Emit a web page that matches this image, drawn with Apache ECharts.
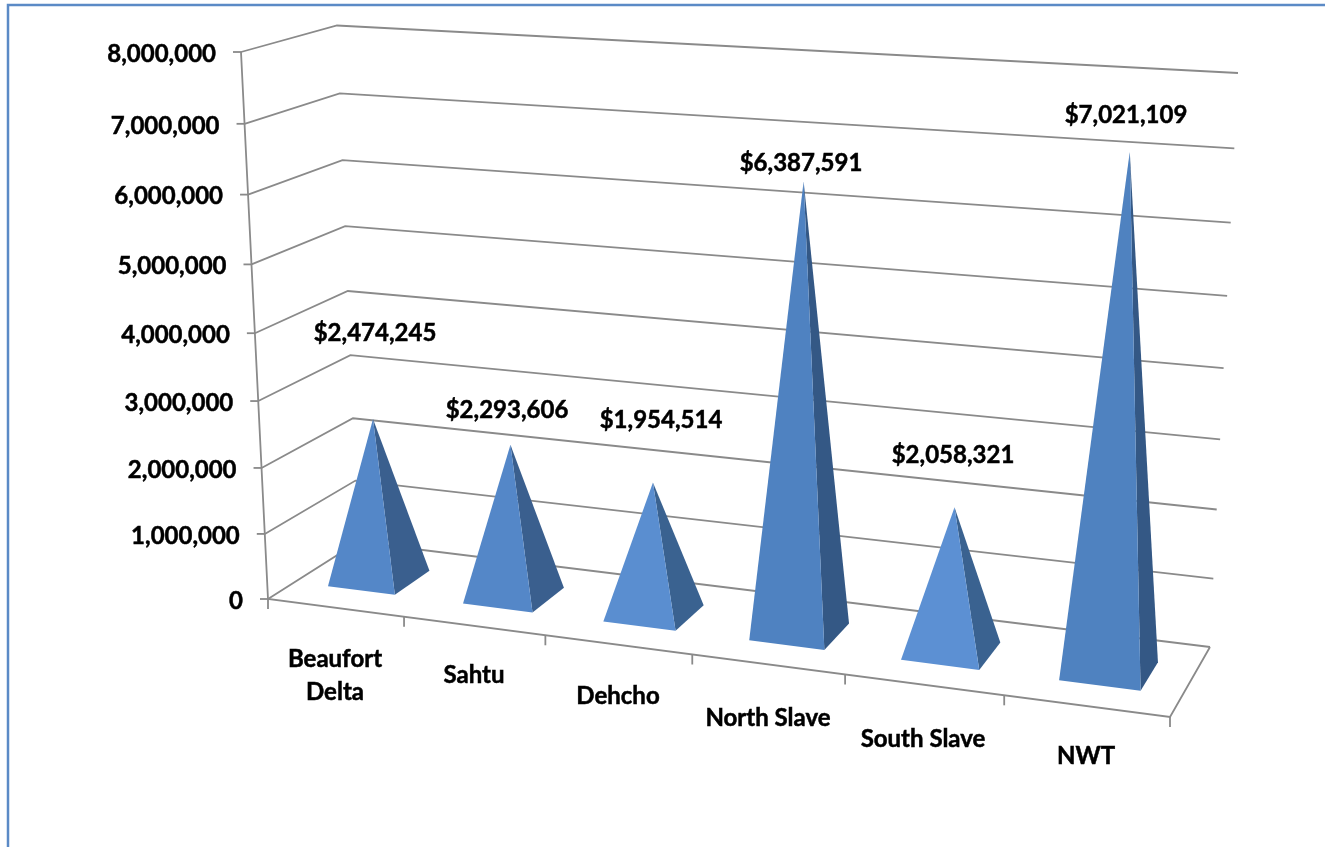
<!DOCTYPE html>
<html>
<head>
<meta charset="utf-8">
<style>html,body{margin:0;padding:0;background:#fff}#chart{width:1325px;height:847px}</style>
<script src="https://cdn.jsdelivr.net/npm/echarts@6/dist/echarts.min.js"></script>
</head>
<body>
<div id="chart"></div>
<script>
// Regional totals shown as pyramids standing on a perspective floor.
const categories = ['Beaufort\nDelta', 'Sahtu', 'Dehcho', 'North Slave', 'South Slave', 'NWT'];
const values = [2474245, 2293606, 1954514, 6387591, 2058321, 7021109];
const tickValues = [0, 1000000, 2000000, 3000000, 4000000, 5000000, 6000000, 7000000, 8000000];
const tickLabels = ['0', '1,000,000', '2,000,000', '3,000,000', '4,000,000', '5,000,000', '6,000,000', '7,000,000', '8,000,000'];

// Layout: where the text sits and how each pyramid is tinted.
const valueLabelAnchors = [[375, 333], [507, 410], [661, 420], [801, 163], [953, 455], [1126, 115]];
const categoryLabelAnchors = [[335, 676], [474, 675], [618, 696], [768, 718], [923, 739], [1086, 756]];
const frontColors = ['#5487c8', '#5487c8', '#5a8ed0', '#4f82c1', '#5c90d3', '#4f82c0'];
const sideColors = ['#3a5f8e', '#3a5f8e', '#3a6290', '#345885', '#3a6290', '#345885'];

// Corners of the plot box on screen: Front/Back, Left/Right, Bottom/Top.
const FLB = [268, 599], FRB = [1170, 717], BLB = [358, 542], BRB = [1210, 647];
const FLT = [241, 52], FRT = [1200, 85], BLT = [337, 25.5], BRT = [1238, 73];
const WARP_U = 0.126, WARP_V = 0.058;
const BASE_HALF = 0.25, BASE_NEAR = 0.3, BASE_FAR = 0.71;

const FONT = { fontFamily: 'Lato', fontWeight: 'bold', fontSize: 24, fill: '#000', stroke: '#000', lineWidth: 0.5 };
const GRID_STROKE = { stroke: '#8a8a8a', lineWidth: 1.8, fill: null };

const lerp = (a, b, t) => [a[0] + (b[0] - a[0]) * t, a[1] + (b[1] - a[1]) * t];
const warp = (t, k) => t / (1 + k * (1 - t));

// Maps box coordinates (across, depth, height; each 0..1) to screen pixels.
function project(u, d, v) {
  const U = warp(u, WARP_U), V = warp(v, WARP_V);
  const low = lerp(lerp(FLB, FRB, U), lerp(BLB, BRB, U), d);
  const high = lerp(lerp(FLT, FRT, U), lerp(BLT, BRT, U), d);
  return lerp(low, high, V);
}

const line = (points) => ({ type: 'polyline', shape: { points }, style: GRID_STROKE, silent: true });

// One gridline per tick: along the left wall, then along the back wall.
function renderTick(params, api) {
  const v = 1 - api.coord([0, api.value(0)])[1] / api.getHeight();
  const a = project(0, 0, v);
  return {
    type: 'group',
    children: [
      line([a, project(0, 1, v), project(1, 1, v)]),
      line([[a[0] - 8, a[1]], a]),
      { type: 'text', style: Object.assign({ text: tickLabels[params.dataIndex], x: a[0] - 25, y: a[1] + 2, align: 'right', verticalAlign: 'middle' }, FONT) }
    ]
  };
}

// Floor outline, front-left upright and the ticks between the categories.
function renderFrame(params, api) {
  const children = [
    line([project(0, 0, 1), project(0, 0, 0), project(1, 0, 0), project(1, 1, 0)])
  ];
  for (let i = 0; i <= categories.length; i++) {
    const p = project(i / categories.length, 0, 0);
    children.push(line([p, [p[0], p[1] + 10]]));
  }
  return { type: 'group', children };
}

function renderPyramid(params, api) {
  const i = api.value(0);
  const c = api.coord([i, api.value(1)]);
  const W = api.getWidth(), H = api.getHeight();
  const half = api.size([1, 0])[0] * BASE_HALF;
  const uL = (c[0] - half) / W, uR = (c[0] + half) / W, uC = c[0] / W;
  const fl = project(uL, BASE_NEAR, 0), fr = project(uR, BASE_NEAR, 0), br = project(uR, BASE_FAR, 0);
  const apex = project(uC, (BASE_NEAR + BASE_FAR) / 2, 1 - c[1] / H);
  return {
    type: 'group',
    children: [
      { type: 'polygon', shape: { points: [fr, br, apex] }, style: { fill: sideColors[i] } },
      { type: 'polygon', shape: { points: [fl, fr, apex] }, style: { fill: frontColors[i] } }
    ]
  };
}

function renderValueLabel(params, api) {
  const a = valueLabelAnchors[params.dataIndex];
  const text = '$' + api.value(1).toLocaleString('en-US');
  return { type: 'text', style: Object.assign({ text, x: a[0], y: a[1], align: 'center', verticalAlign: 'middle' }, FONT) };
}

function renderCategoryLabel(params, api) {
  const a = categoryLabelAnchors[params.dataIndex];
  return { type: 'text', style: Object.assign({ text: categories[params.dataIndex], x: a[0], y: a[1], align: 'center', verticalAlign: 'middle', lineHeight: 33 }, FONT) };
}

const chart = echarts.init(document.getElementById('chart'));
const points = values.map((v, i) => [i, v]);
chart.setOption({
  animation: false,
  backgroundColor: '#fff',
  grid: { left: 0, right: 0, top: 0, bottom: 0 },
  xAxis: { type: 'category', data: categories, show: false },
  yAxis: { type: 'value', min: 0, max: 8000000, interval: 1000000, show: false },
  graphic: [{
    type: 'rect', silent: true,
    shape: { x: 8, y: 5, width: 1400, height: 950 },
    style: { fill: null, stroke: '#5b8ac6', lineWidth: 2.5 }
  }],
  series: [
    { type: 'custom', name: 'Gridlines', clip: false, silent: true, renderItem: renderTick, data: tickValues.map((t) => [t]), encode: { y: 0 } },
    { type: 'custom', name: 'Frame', clip: false, silent: true, renderItem: renderFrame, data: [[0]] },
    { type: 'custom', name: 'Totals', clip: false, renderItem: renderPyramid, data: points, encode: { x: 0, y: 1 } },
    { type: 'custom', name: 'Value labels', clip: false, silent: true, renderItem: renderValueLabel, data: points, encode: { x: 0, y: 1 } },
    { type: 'custom', name: 'Category labels', clip: false, silent: true, renderItem: renderCategoryLabel, data: points, encode: { x: 0, y: 1 } }
  ]
});
</script>
</body>
</html>
